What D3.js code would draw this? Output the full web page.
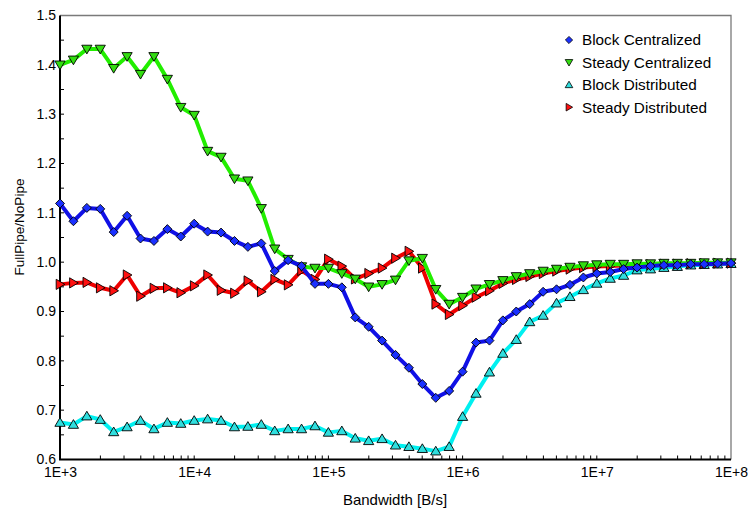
<!DOCTYPE html>
<html><head><meta charset="utf-8">
<script src="https://cdn.jsdelivr.net/npm/d3@7"></script>
<style>body{margin:0;background:#fff}svg{display:block;font-family:"Liberation Sans",Arial,sans-serif}</style>
</head><body><svg id="c" width="749" height="511"></svg>
<script>
const bandwidth = [1000,1259,1585,1995,2512,3162,3981,5012,6310,7943,
 10000,12589,15849,19953,25119,31623,39811,50119,63096,79433,
 100000,125893,158489,199526,251189,316228,398107,501187,630957,794328,
 1000000,1258925,1584893,1995262,2511886,3162278,3981072,5011872,6309573,7943282,
 10000000,12589254,15848932,19952623,25118864,31622777,39810717,50118723,63095734,79432823,
 100000000];
const blockCentralized = [1.119,1.083,1.110,1.108,1.061,1.094,1.048,1.043,1.067,1.052,
 1.078,1.062,1.060,1.043,1.031,1.038,0.982,1.004,0.992,0.956,
 0.956,0.949,0.888,0.869,0.841,0.812,0.786,0.753,0.725,0.739,
 0.778,0.837,0.841,0.882,0.900,0.915,0.940,0.945,0.954,0.969,
 0.977,0.980,0.986,0.989,0.992,0.994,0.994,0.996,0.996,0.997,0.998];
const steadyCentralized = [1.400,1.410,1.432,1.432,1.393,1.417,1.381,1.417,1.371,1.314,
 1.298,1.225,1.213,1.169,1.165,1.109,1.027,1.006,0.991,0.988,
 0.988,0.977,0.966,0.950,0.955,0.964,1.003,1.008,0.945,0.915,
 0.929,0.946,0.955,0.963,0.971,0.977,0.982,0.986,0.990,0.993,
 0.995,0.996,0.996,0.997,0.997,0.998,0.998,0.998,0.999,0.999,0.999];
const blockDistributed = [0.675,0.671,0.688,0.681,0.656,0.666,0.679,0.662,0.675,0.673,
 0.679,0.682,0.679,0.666,0.667,0.671,0.658,0.662,0.662,0.668,
 0.655,0.658,0.643,0.638,0.642,0.629,0.626,0.622,0.617,0.626,
 0.687,0.734,0.777,0.815,0.843,0.879,0.892,0.917,0.930,0.944,
 0.957,0.967,0.973,0.984,0.986,0.989,0.991,0.994,0.995,0.996,0.997];
const steadyDistributed = [0.955,0.958,0.959,0.948,0.942,0.974,0.931,0.947,0.948,0.938,
 0.952,0.974,0.943,0.937,0.962,0.940,0.965,0.954,0.983,0.965,
 1.006,0.992,0.966,0.977,0.988,1.008,1.022,0.988,0.915,0.894,
 0.912,0.929,0.942,0.957,0.965,0.971,0.977,0.982,0.986,0.989,
 0.991,0.992,0.993,0.994,0.995,0.996,0.996,0.997,0.997,0.998,0.998];
const seriesNames = ["Block Centralized","Steady Centralized","Block Distributed","Steady Distributed"];
const xTickLabels = ["1E+3","1E+4","1E+5","1E+6","1E+7","1E+8"];
const yTickLabels = ["0.6","0.7","0.8","0.9","1.0","1.1","1.2","1.3","1.4","1.5"];

const svg = d3.select("#c");
const L=60, R=731, T=15.5, B=459.5;
const x = d3.scaleLog().domain([1e3,1e8]).range([L,R]);
const y = d3.scaleLinear().domain([0.6,1.5]).range([B,T]);

const styles = {
 "Block Centralized": {line:"#1010e6", fill:"#1a30ff", shape:"diamond", data:blockCentralized},
 "Steady Centralized": {line:"#22ee00", fill:"#33dd11", shape:"down", data:steadyCentralized},
 "Block Distributed": {line:"#00f0f0", fill:"#30dede", shape:"up", data:blockDistributed},
 "Steady Distributed": {line:"#ee0000", fill:"#ff1010", shape:"right", data:steadyDistributed}
};
function shapePath(s, r){
  if(s==="diamond") return `M0,${-r}L${r},0L0,${r}L${-r},0Z`;
  if(s==="down") return `M${-r},${-r*0.75}L${r},${-r*0.75}L0,${r*0.95}Z`;
  if(s==="up") return `M${-r},${r*0.75}L${r},${r*0.75}L0,${-r*0.95}Z`;
  if(s==="right") return `M${-r*0.75},${-r}L${-r*0.75},${r}L${r*0.95},0Z`;
}

const gx = svg.append("g").attr("transform",`translate(0,${B})`)
  .call(d3.axisBottom(x).tickValues(d3.range(3,9).map(e=>Math.pow(10,e))).tickSize(0).tickPadding(8)
    .tickFormat((d,i)=>xTickLabels[i]));
gx.select(".domain").remove();
gx.selectAll("text").attr("font-size","14px").attr("fill","#000").attr("font-family","Liberation Sans, Arial, sans-serif");
const minorX=[];
for(let e=3;e<8;e++) for(let k=1;k<=9;k++) minorX.push(k*Math.pow(10,e));
svg.append("g").selectAll("line").data(minorX).join("line")
  .attr("x1",d=>x(d)).attr("x2",d=>x(d)).attr("y1",B).attr("y2",d=>B-4)
  .attr("stroke","#000").attr("stroke-width",1);

const gy = svg.append("g").attr("transform",`translate(${L},0)`)
  .call(d3.axisLeft(y).tickValues(d3.range(0,10).map(i=>0.6+i*0.1)).tickSize(0).tickPadding(4)
    .tickFormat((d,i)=>yTickLabels[i]));
gy.select(".domain").remove();
gy.selectAll("text").attr("font-size","14px").attr("fill","#000").attr("font-family","Liberation Sans, Arial, sans-serif");
svg.append("g").selectAll("line").data(d3.range(0,19).map(i=>0.6+i*0.05)).join("line")
  .attr("x1",L).attr("x2",L+4).attr("y1",d=>y(d)).attr("y2",d=>y(d))
  .attr("stroke","#000").attr("stroke-width",1);

svg.append("path").attr("d",`M${L},${T}H${R}V${B}`).attr("fill","none").attr("stroke","#7a7a7a").attr("stroke-width",1.3);
svg.append("path").attr("d",`M${L},${T}V${B}H${R}`).attr("fill","none").attr("stroke","#000").attr("stroke-width",2);

const order = ["Block Distributed","Steady Distributed","Steady Centralized","Block Centralized"];
const line = d3.line().x((d,i)=>x(bandwidth[i])).y(d=>y(d));
order.forEach(name=>{
  const s = styles[name];
  const g = svg.append("g");
  g.append("path").datum(s.data).attr("d",line).attr("fill","none")
    .attr("stroke",s.line).attr("stroke-width",4).attr("stroke-linejoin","round");
  g.selectAll("path.m").data(s.data).join("path").attr("class","m")
    .attr("transform",(d,i)=>`translate(${x(bandwidth[i])},${y(d)})`)
    .attr("d",shapePath(s.shape, s.shape==="diamond"?4.5:5.1))
    .attr("fill",s.fill).attr("stroke","#000").attr("stroke-width",0.9);
});

const lg = svg.append("g");
seriesNames.forEach((name,i)=>{
  const s = styles[name];
  const cy = 40 + i*22.4;
  lg.append("path").attr("transform",`translate(569,${cy})`)
    .attr("d",shapePath(s.shape, s.shape==="diamond"?3.6:3.8))
    .attr("fill",s.fill).attr("stroke","#000").attr("stroke-width",0.8);
  lg.append("text").attr("x",582).attr("y",cy+5.3).attr("font-size","15.3px").text(name);
});

svg.append("text").attr("x",395).attr("y",505).attr("text-anchor","middle").attr("font-size","15px").text("Bandwidth [B/s]");
svg.append("text").attr("transform","translate(24,227) rotate(-90)").attr("text-anchor","middle").attr("font-size","13.5px").text("FullPipe/NoPipe");
</script></body></html>
